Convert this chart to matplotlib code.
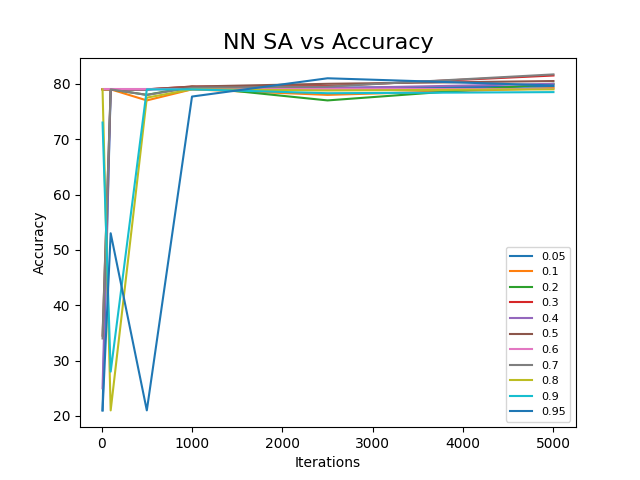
import matplotlib
matplotlib.use("Agg")
import matplotlib.pyplot as plt

iterations = [10, 100, 500, 1000, 2500, 5000]
labels = ["0.05", "0.1", "0.2", "0.3", "0.4", "0.5", "0.6", "0.7", "0.8", "0.9", "0.95"]
s005 = [21, 79, 79, 79.3, 79.3, 79.5]
s01 = [79, 79, 77, 79, 78, 79.2]
s02 = [79, 79, 78, 79.5, 77, 80]
s03 = [79, 79, 79, 79.5, 79.6, 81.5]
s04 = [25, 79, 79, 79, 79.2, 80]
s05 = [34.5, 79, 79, 79.5, 80, 80.5]
s06 = [79, 79, 79, 79, 79, 79]
s07 = [34, 79, 78, 79.3, 79.5, 81.7]
s08 = [79, 21, 77.5, 79, 78.8, 79]
s09 = [73, 28, 79, 79, 78.3, 78.5]
s095 = [21, 53, 21, 77.7, 81, 79.7]
series = [s005, s01, s02, s03, s04, s05, s06, s07, s08, s09, s095]

fig, ax = plt.subplots(figsize=(6.4, 4.8), dpi=100)
for lab, s in zip(labels, series):
    ax.plot(iterations, s, label=lab)
ax.set_title("NN SA vs Accuracy", fontsize=16)
ax.set_xlabel("Iterations")
ax.set_ylabel("Accuracy")
ax.legend(loc="lower right", fontsize=8)
fig.savefig("out.png")
